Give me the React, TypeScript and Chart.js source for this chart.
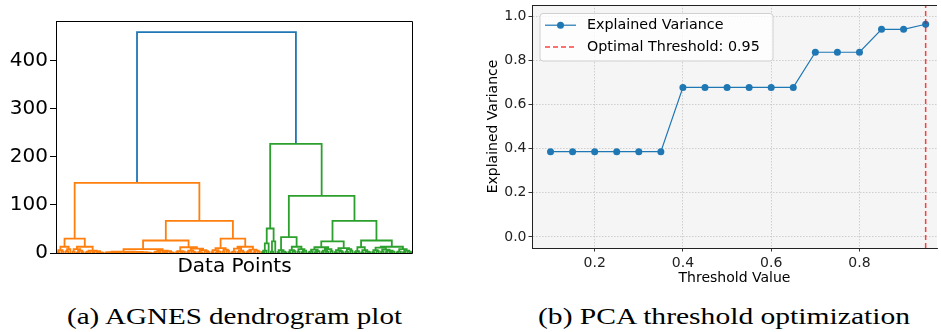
import React, { useEffect, useLayoutEffect, useRef, useState } from "react";
import { Chart, registerables } from "chart.js";

Chart.register(...registerables);

// ---------------- (a) AGNES dendrogram ----------------
// merge tree nodes: [merge height, left, right]; 0 = a single data point
type Tree = 0 | [number, Tree, Tree];

const orangeA: Tree = [13, [6, [2, 0, 0], [3, 0, 0]], [8, [4, 0, 0], 0]];
const orangeB: Tree = [13, [8, [3, 0, 0], [5, [1, 0, 0], [2, 0, 0]]], [5, [3, [1, 0, 0], 0], [4, [2, 0, 0], [1, [0.5, 0, 0], [0.8, 0, 0]]]]];
const orangeC1: Tree = [3, [2, [1, 0, [0.5, 0, 0]], [1.5, [0.5, 0, 0], [1, 0, [0.4, 0, 0]]]], [2.5, [2, [1, 0, [0.5, 0, 0]], [1.5, 0, [0.7, 0, 0]]], [2, [1, [0.5, 0, 0], 0], [1.5, [1, 0, 0], [0.5, 0, [0.3, 0, 0]]]]]];
const orangeC2: Tree = [5, [3, [1, 0, 0], [2, 0, 0]], [4, [2, 0, [1, 0, 0]], [1.5, 0, [0.8, 0, 0]]]];
const orangeD: Tree = [12, [4, [2, 0, 0], [3, [1, 0, 0], 0]], [9, [5, [2, 0, 0], [3, 0, [1, 0, 0]]], [6, [2, 0, [1, 0, 0]], [4, 0, [2, 0, 0]]]]];
const orangeE: Tree = [10, [6, [2, 0, 0], [3, [1, 0, 0], 0]], [7, [3, 0, 0], [5, 0, 0]]];
const orangeF: Tree = [13, [9, [3, [1, 0, 0], 0], [5, [2, 0, 0], [2, 0, 0]]], [7, [4, [2, 0, 0], 0], [5, [1, 0, 0], [3, 0, 0]]]];

const greenG: Tree = [20, [5, [2, 0, 0], 0], 0];
const greenH: Tree = [24, [3, 0, 0], 0];
const greenI: Tree = [33, [6, [2, 0, 0], [3, 0, [1, 0, 0]]], [13, [6, [2, 0, 0], [4, 0, 0]], [8, [3, 0, 0], [5, [2, 0, 0], 0]]]];
const greenK: Tree = [24, [12, [7, [3, [1, 0, 0], 0], [4, [2, 0, 0], 0]], [8, [5, [2, 0, 0], [3, 0, 0]], [4, 0, 0]]], [10, [6, [2, 0, 0], [4, 0, [1, 0, 0]]], [8, [3, 0, 0], [5, 0, 0]]]];
const greenM: Tree = [26, [12, [4, [2, 0, 0], 0], [6, [1, 0, 0], [3, 0, [2, 0, 0]]]], [13, [11, [6, [2, 0, 0], [4, 0, 0]], [7, [3, 0, 0], [5, [2, 0, 0], [3, [1, 0, 0], 0]]]], [8, [3, [1, 0, 0], 0], [5, [2, 0, 0], [3, 0, [1, 0, 0]]]]]];

const orangeTree: Tree = [146, [30, orangeA, orangeB], [67, [26, [8, orangeC1, orangeC2], orangeD], [30, orangeE, orangeF]]];
const greenTree: Tree = [227, [51, greenG, greenH], [119, greenI, [67, greenK, greenM]]];
const rootHeight = 460;

const dendroTicks = [0, 100, 200, 300, 400];
const dendroYMax = 483;

// ---------------- (b) PCA threshold optimization ----------------
const thresholds = [0.1, 0.15, 0.2, 0.25, 0.3, 0.35, 0.4, 0.45, 0.5, 0.55, 0.6, 0.65, 0.7, 0.75, 0.8, 0.85, 0.9, 0.95];
const explainedVariance = [0.386, 0.386, 0.386, 0.386, 0.386, 0.386, 0.677, 0.677, 0.677, 0.677, 0.677, 0.677, 0.836, 0.836, 0.836, 0.94, 0.94, 0.963];
const optimalThreshold = 0.95;
const pcaYRange = [-0.05, 1.05];
const pcaXRange = [0.058, 0.9757];

const FONT = "'DejaVu Sans', 'Noto Sans', sans-serif";

type Pt = { x: number; y: number | null };

function layoutTree(t: Tree, counter: { i: number }, segs: Pt[]): { x: number; y: number } {
  if (!Array.isArray(t)) {
    const x = 5 + 10 * counter.i;
    counter.i += 1;
    return { x, y: 0 };
  }
  const [h, l, r] = t;
  const a = layoutTree(l, counter, segs);
  const b = layoutTree(r, counter, segs);
  segs.push({ x: a.x, y: a.y }, { x: a.x, y: h }, { x: b.x, y: h }, { x: b.x, y: b.y }, { x: b.x, y: null });
  return { x: (a.x + b.x) / 2, y: h };
}

const framePlugin = {
  id: "frame",
  afterDatasetsDraw(chart: any, _args: any, opts: any) {
    const { ctx, chartArea: a } = chart;
    ctx.save();
    ctx.strokeStyle = opts.color || "#000";
    ctx.lineWidth = 1;
    ctx.beginPath();
    if (opts.full) {
      ctx.rect(Math.round(a.left) + 0.5, Math.round(a.top) + 0.5, Math.round(a.right - a.left) - 1, Math.round(a.bottom - a.top));
    } else {
      ctx.moveTo(a.left, Math.round(a.top) + 0.5);
      ctx.lineTo(a.right, Math.round(a.top) + 0.5);
    }
    ctx.stroke();
    ctx.restore();
  },
};

const bgPlugin = {
  id: "plotBg",
  beforeDraw(chart: any, _args: any, opts: any) {
    if (!opts.color) return;
    const { ctx, chartArea: a } = chart;
    ctx.save();
    ctx.fillStyle = opts.color;
    ctx.fillRect(a.left, a.top, a.right - a.left, a.bottom - a.top);
    ctx.restore();
  },
};

const boxLegendPlugin = {
  id: "boxLegend",
  afterDraw(chart: any, _args: any, opts: any) {
    if (!opts.show) return;
    const { ctx, chartArea: a } = chart;
    const ds = chart.data.datasets;
    ctx.save();
    ctx.font = `14.3px ${FONT}`;
    const textW = Math.max(...ds.map((d: any) => ctx.measureText(d.label).width));
    const x0 = a.left + 8;
    const y0 = a.top + 8.5;
    const w = Math.max(47 + textW + 7, 233);
    const h = 47.5;
    const r = 3;
    ctx.beginPath();
    ctx.moveTo(x0 + r, y0);
    ctx.lineTo(x0 + w - r, y0);
    ctx.arcTo(x0 + w, y0, x0 + w, y0 + r, r);
    ctx.lineTo(x0 + w, y0 + h - r);
    ctx.arcTo(x0 + w, y0 + h, x0 + w - r, y0 + h, r);
    ctx.lineTo(x0 + r, y0 + h);
    ctx.arcTo(x0, y0 + h, x0, y0 + h - r, r);
    ctx.lineTo(x0, y0 + r);
    ctx.arcTo(x0, y0, x0 + r, y0, r);
    ctx.closePath();
    ctx.fillStyle = "rgba(255,255,255,0.8)";
    ctx.fill();
    ctx.strokeStyle = "#d0d0d0";
    ctx.lineWidth = 1;
    ctx.stroke();
    ds.forEach((d: any, i: number) => {
      const cy = y0 + 11.7 + i * 21.7;
      ctx.save();
      ctx.strokeStyle = d.borderColor;
      ctx.lineWidth = d.borderWidth;
      ctx.setLineDash(d.borderDash || []);
      ctx.beginPath();
      ctx.moveTo(x0 + 5, cy);
      ctx.lineTo(x0 + 36, cy);
      ctx.stroke();
      ctx.restore();
      if (d.pointRadius > 0) {
        ctx.beginPath();
        ctx.fillStyle = d.pointBackgroundColor;
        ctx.arc(x0 + 20.5, cy, d.pointRadius, 0, Math.PI * 2);
        ctx.fill();
      }
      ctx.fillStyle = "#000";
      ctx.textBaseline = "middle";
      ctx.textAlign = "left";
      ctx.fillText(d.label, x0 + 47, cy);
    });
    ctx.restore();
  },
};

function Dendrogram() {
  const ref = useRef<HTMLCanvasElement>(null);
  useEffect(() => {
    const counter = { i: 0 };
    const orangeSegs: Pt[] = [];
    const greenSegs: Pt[] = [];
    const o = layoutTree(orangeTree, counter, orangeSegs);
    const g = layoutTree(greenTree, counter, greenSegs);
    const blueSegs: Pt[] = [
      { x: o.x, y: o.y },
      { x: o.x, y: rootHeight },
      { x: g.x, y: rootHeight },
      { x: g.x, y: g.y },
    ];
    const nLeaves = counter.i;
    const mk = (data: Pt[], color: string) => ({
      data,
      borderColor: color,
      borderWidth: 1.8,
      pointRadius: 0,
      spanGaps: false,
      tension: 0,
    });
    const chart = new Chart(ref.current!, {
      type: "line",
      data: {
        datasets: [mk(orangeSegs, "#ff7f0e"), mk(greenSegs, "#2ca02c"), mk(blueSegs, "#1f77b4")] as any,
      },
      options: {
        animation: false,
        responsive: false,
        layout: { padding: { top: 21, right: 7, left: 0, bottom: 0 } },
        plugins: {
          legend: { display: false },
          tooltip: { enabled: false },
          frame: { full: true, color: "#000" },
        } as any,
        scales: {
          x: {
            type: "linear",
            min: 0,
            max: nLeaves * 10,
            ticks: { display: false },
            grid: { display: false },
            border: { display: false },
            title: {
              display: true,
              text: "Data Points",
              color: "#000",
              font: { family: FONT, size: 20 },
              padding: { top: 0, bottom: 11 },
            },
            afterFit: (s: any) => {
              s.height = 37;
              s.paddingLeft = 0;
              s.paddingRight = 0;
            },
          },
          y: {
            type: "linear",
            min: 0,
            max: dendroYMax,
            afterBuildTicks: (s: any) => {
              s.ticks = dendroTicks.map((v) => ({ value: v }));
            },
            ticks: { color: "#000", font: { family: FONT, size: 20 }, padding: 2 },
            grid: { drawOnChartArea: false, tickLength: 6, tickColor: "#000", tickWidth: 1 },
            border: { display: true, color: "#000", width: 1 },
            afterFit: (s: any) => {
              s.width = 56;
              s.paddingTop = 0;
              s.paddingBottom = 0;
            },
          },
        } as any,
      },
      plugins: [framePlugin],
    });
    return () => chart.destroy();
  }, []);
  return <canvas ref={ref} width={420} height={290} style={{ position: "absolute", left: 0, top: 0 }} />;
}

function PcaChart() {
  const ref = useRef<HTMLCanvasElement>(null);
  useEffect(() => {
    const gridOpts = { color: "#c4c4c4", lineWidth: 0.8, tickLength: 3.5, tickColor: "#333", tickWidth: 1 };
    const borderOpts = { display: true, color: "#222", width: 1, dash: [1.5, 1.5] };
    const chart = new Chart(ref.current!, {
      type: "line",
      data: {
        datasets: [
          {
            label: "Explained Variance",
            data: thresholds.map((t, i) => ({ x: t, y: explainedVariance[i] })),
            borderColor: "#1f77b4",
            borderWidth: 1.2,
            pointRadius: 3.5,
            pointBackgroundColor: "#1f77b4",
            pointBorderWidth: 0,
            order: 1,
          },
          {
            label: `Optimal Threshold: ${optimalThreshold}`,
            data: [
              { x: optimalThreshold, y: pcaYRange[0] },
              { x: optimalThreshold, y: pcaYRange[1] },
            ],
            borderColor: "rgba(255,0,0,0.75)",
            borderWidth: 1.5,
            borderDash: [5, 3],
            pointRadius: 0,
            order: 0,
          },
        ] as any,
      },
      options: {
        animation: false,
        responsive: false,
        layout: { padding: { top: 5, right: 0, left: 0, bottom: 0 } },
        plugins: {
          legend: { display: false },
          tooltip: { enabled: false },
          frame: { full: false, color: "#222" },
          plotBg: { color: "#f5f5f5" },
          boxLegend: { show: true },
        } as any,
        scales: {
          x: {
            type: "linear",
            min: pcaXRange[0],
            max: pcaXRange[1],
            ticks: {
              stepSize: 0.2,
              includeBounds: false,
              color: "#222",
              font: { family: FONT, size: 14 },
              padding: 3.5,
              maxRotation: 0,
              callback: (v: any) => Number(v).toFixed(1),
            },
            grid: gridOpts,
            border: borderOpts,
            title: {
              display: true,
              text: "Threshold Value",
              color: "#000",
              font: { family: FONT, size: 14 },
              padding: { top: 0, bottom: 3 },
            },
            afterFit: (s: any) => {
              s.height = 42;
              s.paddingLeft = 0;
              s.paddingRight = 0;
            },
          },
          y: {
            type: "linear",
            min: pcaYRange[0],
            max: pcaYRange[1],
            ticks: {
              stepSize: 0.2,
              includeBounds: false,
              color: "#222",
              font: { family: FONT, size: 14 },
              padding: 2,
              callback: (v: any) => Number(v).toFixed(1),
            },
            grid: gridOpts,
            border: borderOpts,
            title: {
              display: true,
              text: "Explained Variance",
              color: "#000",
              font: { family: FONT, size: 14 },
              padding: { top: 14.6, bottom: 0 },
            },
            afterFit: (s: any) => {
              s.width = 62;
              s.paddingTop = 0;
              s.paddingBottom = 0;
            },
          },
        } as any,
      },
      plugins: [bgPlugin, framePlugin, boxLegendPlugin],
    });
    return () => chart.destroy();
  }, []);
  return <canvas ref={ref} width={471} height={290} style={{ position: "absolute", left: 470, top: 0 }} />;
}

function Caption({ text, left, width, top }: { text: string; left: number; width: number; top: number }) {
  const ref = useRef<HTMLSpanElement>(null);
  const [sx, setSx] = useState(1);
  useLayoutEffect(() => {
    if (ref.current) {
      const w = ref.current.getBoundingClientRect().width;
      if (w > 0) setSx(width / w);
    }
  }, [width]);
  return (
    <div
      style={{
        position: "absolute",
        left,
        top,
        whiteSpace: "nowrap",
        fontFamily: "'Liberation Serif', 'DejaVu Serif', serif",
        fontSize: 24,
        lineHeight: "24px",
        color: "#000",
        transformOrigin: "0 0",
        transform: `scaleX(${sx})`,
      }}
    >
      <span ref={ref}>{text}</span>
    </div>
  );
}

export default function App() {
  return (
    <div style={{ position: "absolute", left: 0, top: 0, width: 941, height: 332, background: "#fff", overflow: "hidden" }}>
      <Dendrogram />
      <PcaChart />
      <Caption text="(a) AGNES dendrogram plot" left={67} width={335} top={304} />
      <Caption text="(b) PCA threshold optimization" left={538} width={372} top={304} />
    </div>
  );
}
